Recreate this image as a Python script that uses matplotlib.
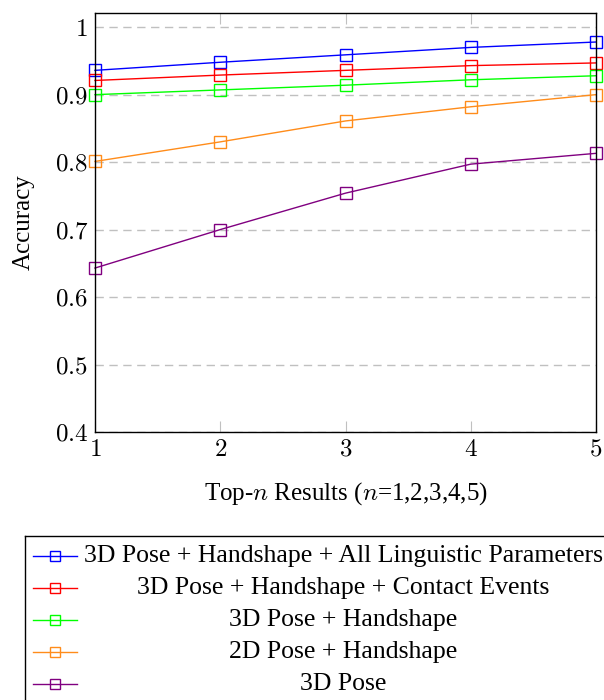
import matplotlib
matplotlib.use("Agg")
import matplotlib.pyplot as plt
from matplotlib.lines import Line2D

plt.rcParams['font.family'] = ['Liberation Serif', 'DejaVu Serif']
plt.rcParams['mathtext.fontset'] = 'cm'

# data
top_n = [1, 2, 3, 4, 5]
acc_all_ling = [0.936, 0.948, 0.959, 0.970, 0.978]
acc_contact = [0.921, 0.929, 0.936, 0.943, 0.947]
acc_3d_hand = [0.900, 0.907, 0.914, 0.922, 0.928]
acc_2d_hand = [0.801, 0.830, 0.861, 0.882, 0.900]
acc_3d_pose = [0.643, 0.700, 0.754, 0.797, 0.813]

labels = ['3D Pose + Handshape + All Linguistic Parameters',
          '3D Pose + Handshape + Contact Events',
          '3D Pose + Handshape',
          '2D Pose + Handshape',
          '3D Pose']
colors = ['#0000ff', '#ff0000', '#00ff00', '#ff8c1a', '#800080']
series = [acc_all_ling, acc_contact, acc_3d_hand, acc_2d_hand, acc_3d_pose]
y_ticks = [0.4, 0.5, 0.6, 0.7, 0.8, 0.9, 1.0]
y_tick_labels = ['0.4', '0.5', '0.6', '0.7', '0.8', '0.9', '1']

fig = plt.figure(figsize=(6.04, 7.0), dpi=100)
ax = fig.add_axes([95/604, 1 - 432/700, 501/604, 419/700])

for ys, c in zip(series, colors):
    ax.plot(top_n, ys, color=c, lw=1.0, marker='s', markersize=8,
            markerfacecolor='none', markeredgewidth=1.0, clip_on=False)

ax.set_xlim(1, 5)
ax.set_ylim(0.4, 1.021)
ax.set_xticks(top_n)
ax.set_xticklabels(['$%d$' % n for n in top_n], fontsize=18)
ax.set_yticks(y_ticks)
ax.set_yticklabels(['$%s$' % t for t in y_tick_labels], fontsize=18)
ax.grid(axis='y', color='#c0c0c0', linestyle=(0, (6, 4)), lw=1)
ax.tick_params(axis='x', direction='in', length=8, color='#c0c0c0',
               top=True, pad=5)
ax.tick_params(axis='y', length=0, pad=5)
for s in ax.spines.values():
    s.set_linewidth(1.0)

ax.set_xlabel('Top-$n$ Results ($n$=1,2,3,4,5)', fontsize=18, labelpad=14)
ax.set_ylabel('Accuracy', fontsize=18, labelpad=14)

# legend drawn in its own box, texts centered like the reference
leg = fig.add_axes([25/604, -0.05, 1.0, 164/700 + 0.05])
leg.set_xlim(25, 629)
leg.set_ylim(700 + 35, 536)
leg.set_xticks([])
leg.set_yticks([])
for s in leg.spines.values():
    s.set_linewidth(1.0)
for i, (lab, c) in enumerate(zip(labels, colors)):
    y = 556 + 32 * i
    leg.add_line(Line2D([33, 77], [y, y], color=c, lw=1.0))
    leg.add_line(Line2D([55], [y], color=c, marker='s', markersize=7,
                        markerfacecolor='none', markeredgewidth=1.0))
    leg.text(343, y, lab, ha='center', va='center', fontsize=18.5)

fig.savefig('out.png', dpi=100)
